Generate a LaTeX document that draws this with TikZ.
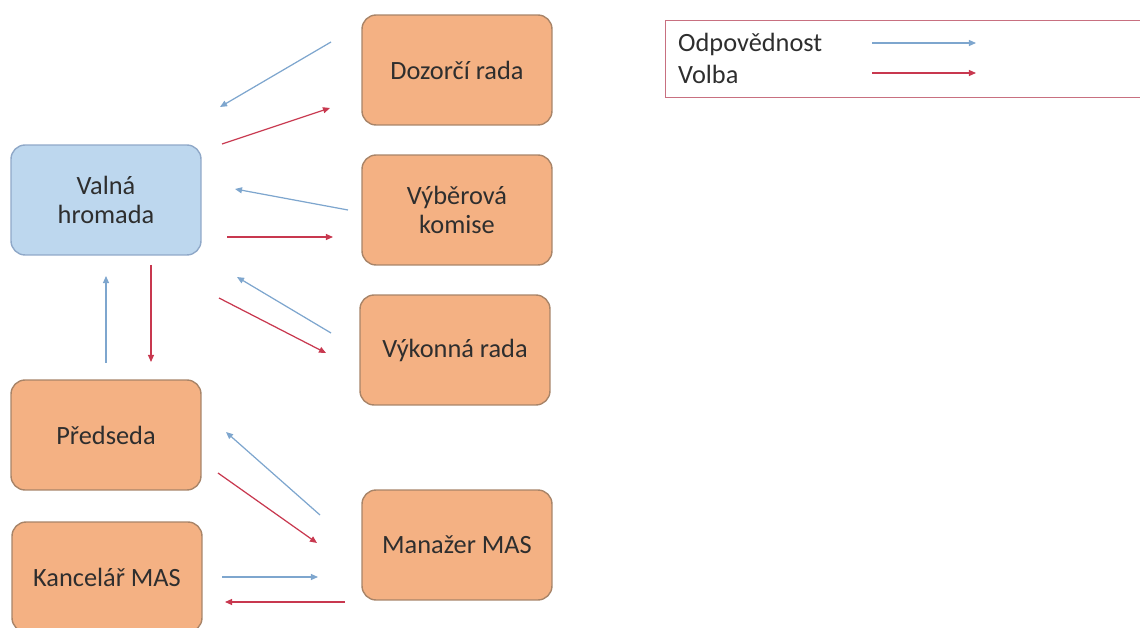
\documentclass[tikz,border=0pt]{standalone}
\usepackage{fontspec}
\setmainfont{Carlito}
\usetikzlibrary{arrows.meta}

\definecolor{orfill}{HTML}{F4B183}
\definecolor{ordraw}{HTML}{A88468}
\definecolor{blfill}{HTML}{BDD7EE}
\definecolor{bldraw}{HTML}{8FA8C8}
\definecolor{odpcol}{HTML}{7EA6CE}
\definecolor{volcol}{HTML}{C8384F}
\definecolor{legcol}{HTML}{C87080}

\begin{document}
\begin{tikzpicture}[x=0.02cm, y=-0.02cm, every node/.style={font=\fontsize{15}{16}\selectfont, text=black!82},
	box/.style={draw=ordraw, line width=0.8pt, fill=orfill, rounded corners=8pt, minimum width=3.8cm, minimum height=2.2cm, align=center},
	odp/.style={draw=odpcol, line width=0.7pt, -{Triangle[length=4pt, width=3.4pt]}},
	volba/.style={draw=volcol, line width=0.7pt, -{Triangle[length=4pt, width=3.4pt]}}]
	\useasboundingbox (0,0) rectangle (1140,628);
	\node[box, draw=bldraw, fill=blfill] (VH) at (106,200) {Valná\\hromada};
	\node[box] (DR) at (457,70) {Dozorčí rada};
	\node[box] (VK) at (457,210) {Výběrová\\komise};
	\node[box] (VR) at (455,350) {Výkonná rada};
	\node[box] (PR) at (106,435) {Předseda};
	\node[box] (MM) at (457,545) {Manažer MAS};
	\node[box] (KM) at (107,577) {Kancelář MAS};
	\foreach \n/\ax/\ay/\bx/\by/\s in {a/331/42/220/107/odp, b/222/144/330/108/volba, c/348/210/235/189/odp, d/227/237/333/237/volba, e/331/333/237/277/odp, f/219/298/326/353/volba, g/106/363/106/276/odp, h/151/265/151/362/volba, i/320/515/226/432/odp, j/218/473/317/543/volba, k/222/577/318/577/odp, l/345/602/225/602/volba} {
		\coordinate (\n s) at (\ax,\ay);
		\coordinate (\n e) at (\bx,\by);
		\draw[\s] (\n s) -- (\n e);
	}
	\node[draw=legcol, line width=0.6pt, minimum width=9.6cm, minimum height=1.54cm] (legend) at (905,59) {};
	\node[anchor=west] (lodp) at (672,44) {Odpovědnost};
	\node[anchor=west] (lvol) at (672,74) {Volba};
	\coordinate (lodps) at (872,43);
	\coordinate (lodpe) at (976,43);
	\coordinate (lvols) at (872,73);
	\coordinate (lvole) at (976,73);
	\draw[odp] (lodps) -- (lodpe);
	\draw[volba] (lvols) -- (lvole);
\end{tikzpicture}
\end{document}
